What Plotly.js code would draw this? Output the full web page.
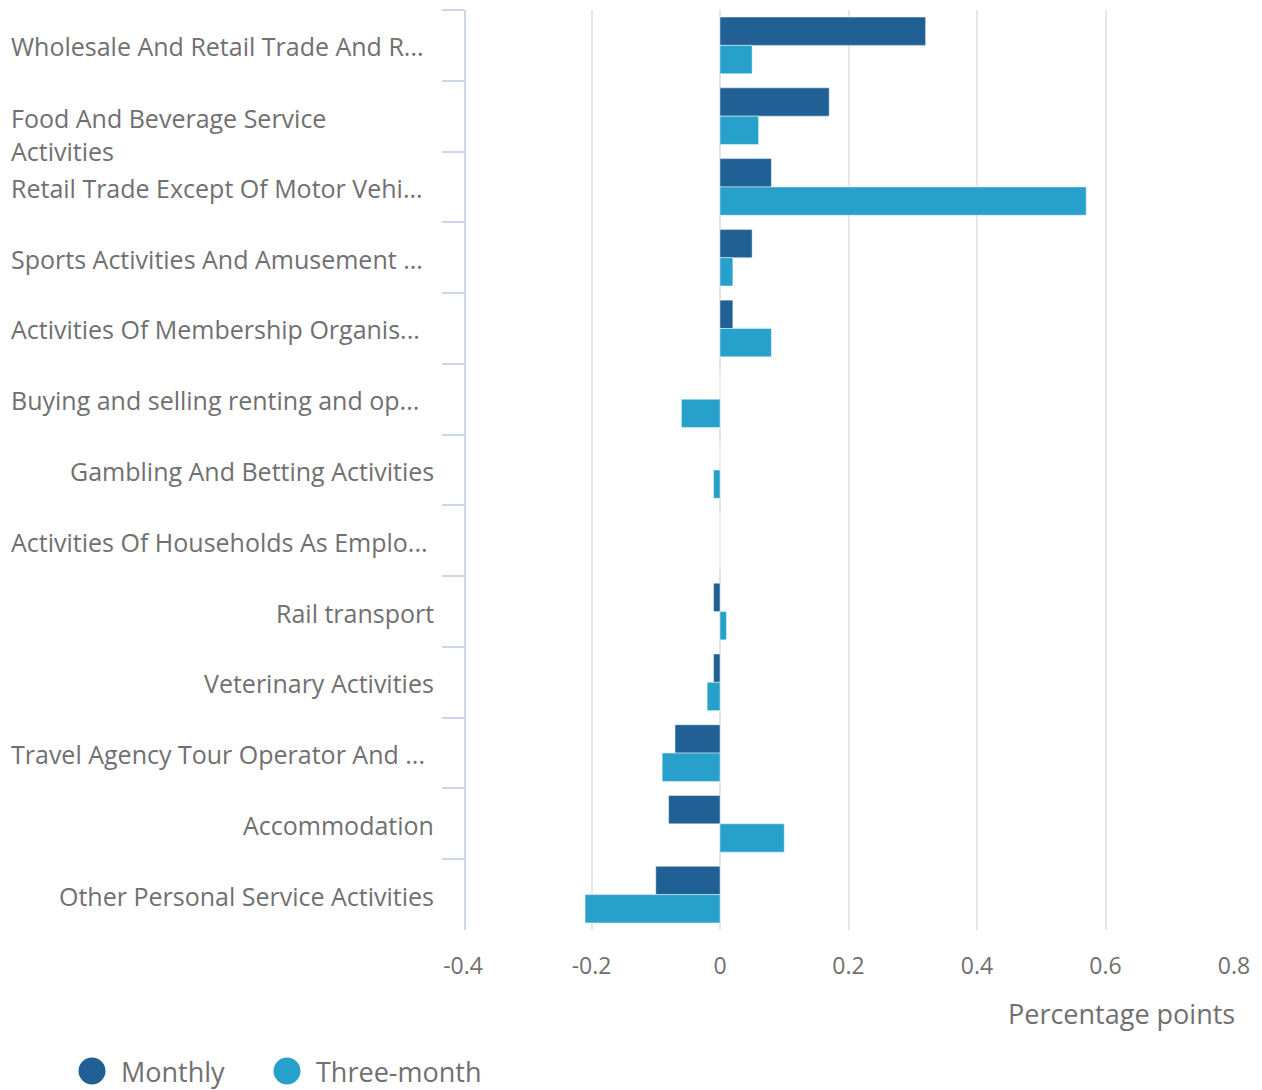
<!DOCTYPE html>
<html>
<head>
<meta charset="utf-8">
<script src="https://cdn.plot.ly/plotly-3.0.1.min.js"></script>
<style>
  html, body { margin: 0; padding: 0; background: #ffffff; }
  #chart { width: 1262px; height: 1090px; }
</style>
</head>
<body>
<div id="chart"></div>
<script>
// ---- Data ----
const categories = [
  "Wholesale And Retail Trade And R...",
  "Food And Beverage Service<br>Activities",
  "Retail Trade Except Of Motor Vehi...",
  "Sports Activities And Amusement ...",
  "Activities Of Membership Organis...",
  "Buying and selling renting and op...",
  "Gambling And Betting Activities",
  "Activities Of Households As Emplo...",
  "Rail transport",
  "Veterinary Activities",
  "Travel Agency Tour Operator And ...",
  "Accommodation",
  "Other Personal Service Activities"
];
const monthly = [0.32, 0.17, 0.08, 0.05, 0.02, 0, 0, 0, -0.01, -0.01, -0.07, -0.08, -0.10];
const threeMonth = [0.05, 0.06, 0.57, 0.02, 0.08, -0.06, -0.01, 0, 0.01, -0.02, -0.09, 0.10, -0.21];
const seriesNames = ["Monthly", "Three-month"];
const tickValues = [-0.4, -0.2, 0, 0.2, 0.4, 0.6, 0.8];
const tickLabels = ["-0.4", "-0.2", "0", "0.2", "0.4", "0.6", "0.8"];
const xTitle = "Percentage points";

// ---- Styling ----
const W = 1262, H = 1090;
const M = { l: 463, r: 28, t: 10, b: 160 };
const PW = W - M.l - M.r, PH = H - M.t - M.b;
const px2x = px => (px - M.l) / PW;
const py2y = py => (M.t + PH - py) / PH;
const colors = ["#206095", "#27a0cc"];
const textColor = "#707070";
const font = "'Open Sans', sans-serif";

const traces = [monthly, threeMonth].map((vals, i) => ({
  type: "bar",
  orientation: "h",
  name: seriesNames[i],
  x: vals,
  y: categories,
  marker: { color: colors[i], line: { color: "rgba(255,255,255,0.45)", width: 1 } },
  showlegend: false,
  hoverinfo: "x+y"
}));

const annotations = [];
categories.forEach(c => {
  const lines = c.split("<br>").length;
  const leftAligned = lines > 1 || c.endsWith("...");
  annotations.push({
    xref: "paper", yref: "y",
    x: leftAligned ? px2x(9) : px2x(436),
    y: c,
    xanchor: leftAligned ? "left" : "right",
    yanchor: "middle",
    align: "left",
    yshift: -17 * (lines - 1) - 1,
    text: c,
    showarrow: false,
    font: { family: font, size: 25, color: textColor }
  });
});
// axis title (right-aligned)
annotations.push({
  xref: "paper", yref: "paper",
  x: 1, y: py2y(1013), xanchor: "right", yanchor: "middle",
  xshift: 3,
  text: xTitle, showarrow: false,
  font: { family: font, size: 27, color: textColor }
});

// legend (circles + text)
const shapes = [];
const legendX = [92, 287];
seriesNames.forEach((n, i) => {
  shapes.push({
    type: "circle", xref: "paper", yref: "paper",
    xsizemode: "pixel", ysizemode: "pixel",
    xanchor: px2x(legendX[i]), yanchor: py2y(1071),
    x0: -13.5, x1: 13.5, y0: -13.5, y1: 13.5,
    fillcolor: colors[i], line: { width: 0 }
  });
  annotations.push({
    xref: "paper", yref: "paper",
    x: px2x(legendX[i] + 27), y: py2y(1071),
    xanchor: "left", yanchor: "middle",
    text: n, showarrow: false,
    font: { family: font, size: 27, color: textColor }
  });
});

const layout = {
  width: W, height: H,
  margin: M,
  paper_bgcolor: "#ffffff",
  plot_bgcolor: "#ffffff",
  font: { family: font, color: textColor },
  barmode: "group",
  bargap: 0.2,
  bargroupgap: 0,
  showlegend: false,
  xaxis: {
    range: [-0.4, 0.8],
    tickmode: "array",
    tickvals: tickValues,
    ticktext: tickLabels,
    showgrid: true,
    gridcolor: "#e6e6e6",
    gridwidth: 2,
    zeroline: true,
    zerolinecolor: "#e3e3e3",
    zerolinewidth: 2,
    showline: false,
    ticks: "",
    tickfont: { family: font, size: 23, color: textColor },
    ticklabelstandoff: 20,
    fixedrange: true
  },
  yaxis: {
    type: "category",
    autorange: "reversed",
    anchor: "free",
    position: px2x(465),
    showticklabels: false,
    showgrid: false,
    zeroline: false,
    showline: true,
    linecolor: "#cdd6ec",
    linewidth: 2,
    ticks: "outside",
    tickson: "boundaries",
    ticklen: 22,
    tickwidth: 2,
    tickcolor: "#cdd6ec",
    fixedrange: true
  },
  annotations: annotations,
  shapes: shapes
};

Plotly.newPlot("chart", traces, layout, { displayModeBar: false, staticPlot: true });
</script>
</body>
</html>
